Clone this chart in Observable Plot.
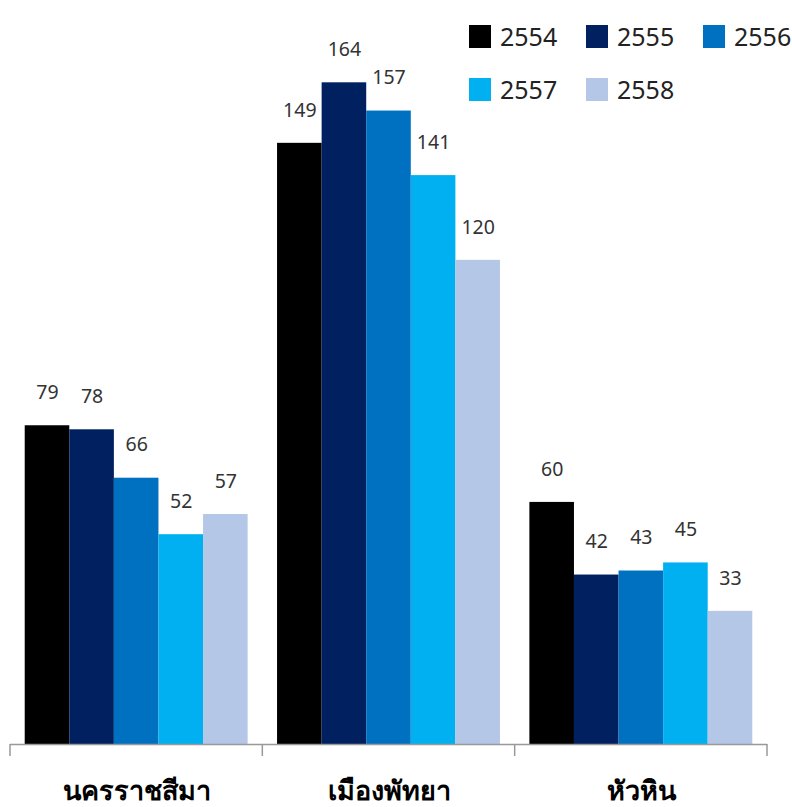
<!DOCTYPE html>
<html><head><meta charset="utf-8">
<script src="https://cdn.jsdelivr.net/npm/d3@7"></script>
<script src="https://cdn.jsdelivr.net/npm/@observablehq/plot@0.6"></script>
<style>
body{margin:0;background:#fff;font-family:"Noto Sans",sans-serif;}
#wrap{position:relative;width:792px;height:807px;overflow:hidden;}
#legend{position:absolute;left:469px;top:19px;width:330px;}
.item{position:absolute;display:flex;align-items:center;font-size:25px;color:#222;}
.sw{width:22px;height:23px;margin-right:9px;}
</style>
</head><body>
<div id="wrap"><div id="legend"></div></div>
<script>
const groups = ["นครราชสีมา", "เมืองพัทยา", "หัวหิน"];
const years = ["2554", "2555", "2556", "2557", "2558"];
const colors = ["#000000", "#002060", "#0070C0", "#00B0F0", "#B4C7E7"];
const v2554 = [79, 149, 60];
const v2555 = [78, 164, 42];
const v2556 = [66, 157, 43];
const v2557 = [52, 141, 45];
const v2558 = [57, 120, 33];
const series = [v2554, v2555, v2556, v2557, v2558];

const data = [];
groups.forEach((g, gi) => years.forEach((y, yi) => data.push({g, year: y, v: series[yi][gi]})));

const chart = Plot.plot({
  width: 792, height: 807,
  marginTop: 0, marginBottom: 63, marginLeft: 10, marginRight: 25,
  style: {fontFamily: "'Noto Sans', sans-serif", background: "#fff"},
  fx: {domain: groups, padding: 0, axis: null, round: false},
  x: {domain: years, axis: null, paddingInner: 0, paddingOuter: 0.33, round: false},
  y: {domain: [0, 184.4], axis: null},
  color: {domain: years, range: colors},
  marks: [
    Plot.barY(data, {fx: "g", x: "year", y: "v", fill: "year", inset: 0}),
    Plot.text(data, {fx: "g", x: "year", y: "v", text: d => String(d.v), dy: -33, fontSize: 19.5, fill: "#333"}),
    Plot.ruleY([0], {stroke: "#999", strokeWidth: 1.5}),
    Plot.axisFx({anchor: "bottom", tickSize: 0, tickPadding: 36, fontSize: 27, fontWeight: "bold", fill: "#000", label: null})
  ]
});

// boundary ticks from the fx scale
const fx = chart.scale("fx");
const edges = groups.map(g => fx.apply(g));
edges.push(fx.apply(groups[groups.length - 1]) + fx.bandwidth);
const y0 = 744;
d3.select(chart).append("g").selectAll("line").data(edges).join("line")
  .attr("x1", d => d).attr("x2", d => d)
  .attr("y1", y0).attr("y2", y0 + 12)
  .attr("stroke", "#999").attr("stroke-width", 1.5);

document.getElementById("wrap").prepend(chart);

const legend = document.getElementById("legend");
years.forEach((y, i) => {
  const it = document.createElement("div");
  it.className = "item";
  it.style.left = (i % 3) * 117 + "px";
  it.style.top = Math.floor(i / 3) * 53 + "px";
  it.innerHTML = `<div class="sw" style="background:${colors[i]}"></div><span>${y}</span>`;
  legend.appendChild(it);
});
</script>
</body></html>
